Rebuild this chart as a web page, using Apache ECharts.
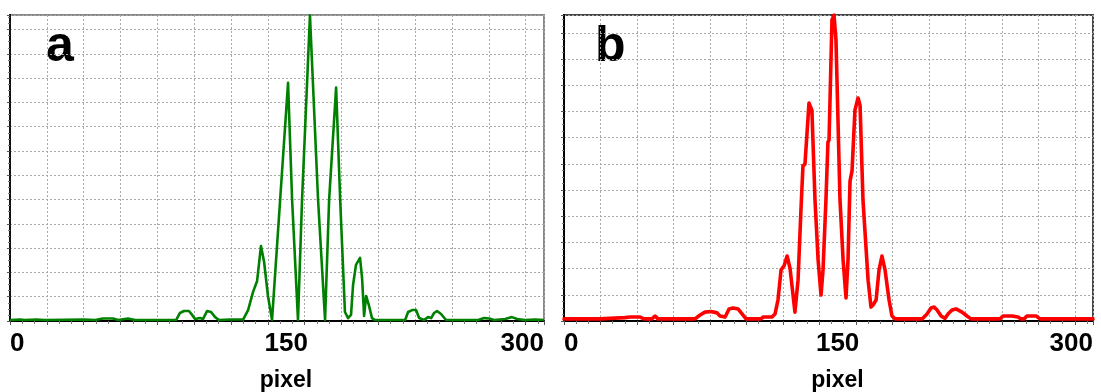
<!DOCTYPE html>
<html>
<head>
<meta charset="utf-8">
<script src="https://cdn.jsdelivr.net/npm/echarts@6/dist/echarts.min.js"></script>
<style>
  html, body { margin: 0; padding: 0; background: #fff; }
  #chart { width: 1101px; height: 392px; }
</style>
</head>
<body>
<div id="chart"></div>
<script>
// Profile a (green) : pixel position / intensity (in grid units)
var aPixel = [0, 5.4, 8.1, 14.1, 19.0, 40.2, 46.2, 50.5, 55.9, 58.7, 64.1, 67.9, 90.2, 92.3, 94.5, 97.2,
    98.9, 100.5, 103.2, 104.8, 107.0, 109.2, 111.4, 113.5, 119.5, 126.6, 129.3, 132.0, 134.2, 136.3,
    138.0, 140.1, 142.3, 146.7, 151.0, 153.2, 156.4, 158.6, 162.9, 167.3, 171.1, 173.3, 177.1, 179.3,
    181.9, 183.6, 185.2, 186.3, 187.9, 190.1, 191.2, 192.3, 193.4, 195.0, 196.6, 198.3, 214.6, 216.2,
    218.4, 220.5, 222.2, 224.9, 227.0, 228.7, 230.3, 231.9, 234.1, 236.8, 254.2, 257.5, 260.2, 262.9,
    268.9, 272.6, 275.4, 279.7, 285.2, 290];
var aIntensity = [0.04, 0.06, 0.04, 0.06, 0.04, 0.06, 0.04, 0.10, 0.10, 0.04, 0.10, 0.04, 0.04, 0.33, 0.41, 0.41,
    0.25, 0.08, 0.12, 0.08, 0.41, 0.37, 0.16, 0.04, 0.06, 0.06, 0.45, 1.20, 1.65, 3.09,
    2.43, 1.03, 0.04, 4.99, 9.81, 4.99, 0.04, 4.99, 12.58, 4.99, 0.04, 4.99, 9.61, 4.99,
    0.37, 0.12, 0.25, 1.48, 2.31, 2.60, 1.77, 0.21, 1.03, 0.62, 0.12, 0.04, 0.04, 0.37,
    0.45, 0.45, 0.12, 0.04, 0.16, 0.12, 0.33, 0.41, 0.29, 0.04, 0.04, 0.12, 0.10, 0.04,
    0.08, 0.16, 0.08, 0.04, 0.06, 0.04];

// Profile b (red)
var bPixel = [0, 19.7, 25.2, 33.4, 36.2, 41.7, 43.9, 48.2, 49.9, 51.5, 71.8, 74.6, 77.3, 80.6, 83.9, 85.5,
    88.3, 90.5, 92.7, 95.4, 97.6, 99.8, 108.0, 109.1, 114.0, 115.7, 117.3, 119.0, 120.6, 122.3, 123.9,
    126.6, 128.3, 129.9, 131.0, 132.1, 134.3, 135.9, 137.6, 139.3, 140.9, 142.0, 143.6, 144.7, 145.3,
    146.9, 148.0, 149.1, 151.3, 153.0, 154.6, 155.7, 156.8, 157.9, 159.5, 161.2, 162.3, 163.9, 166.7,
    168.3, 169.4, 171.1, 172.7, 174.3, 176.0, 178.2, 179.8, 181.5, 196.3, 199.0, 201.2, 202.9, 204.5,
    206.7, 208.9, 210.5, 212.7, 214.9, 218.2, 220.9, 223.1, 239.0, 240.7, 245.6, 248.9, 250.5, 252.2,
    253.8, 258.8, 261.0, 290];
var bIntensity = [0.08, 0.08, 0.10, 0.13, 0.15, 0.15, 0.08, 0.08, 0.19, 0.08, 0.08, 0.23, 0.34, 0.36, 0.31, 0.19,
    0.15, 0.46, 0.50, 0.46, 0.27, 0.08, 0.08, 0.15, 0.15, 0.27, 0.80, 1.95, 2.10, 2.48, 2.02,
    0.34, 1.56, 4.24, 5.92, 5.99, 8.32, 8.05, 4.62, 2.33, 0.99, 1.95, 4.62, 6.83, 6.91,
    11.49, 11.68, 10.73, 4.62, 2.33, 0.88, 2.33, 5.34, 5.73, 8.05, 8.51, 8.24, 4.62, 1.56,
    0.53, 0.61, 0.80, 1.95, 2.48, 1.95, 0.80, 0.19, 0.08, 0.08, 0.27, 0.50, 0.53, 0.42,
    0.19, 0.10, 0.27, 0.42, 0.46, 0.34, 0.19, 0.08, 0.08, 0.19, 0.19, 0.15, 0.08, 0.08,
    0.19, 0.19, 0.08, 0.08];

// Axis labels
var xTickValues = [0, 150, 290];
var xTickLabels = ['0', '150', '300'];
var panelLetters = ['a', 'b'];

var chart = echarts.init(document.getElementById('chart'));

function zip(xs, ys) {
    return xs.map(function (x, i) { return [x, ys[i]]; });
}

function makeXAxis(gridIndex) {
    return {
        type: 'value',
        gridIndex: gridIndex,
        min: 0,
        max: 290,
        interval: 20,
        name: 'pixel',
        nameLocation: 'middle',
        nameGap: 48,
        nameTextStyle: {
            fontFamily: 'Liberation Sans',
            fontWeight: 'bold',
            fontSize: 23,
            color: '#000',
            padding: [0, 0, 0, 18]
        },
        axisLine: { show: true, onZero: false, lineStyle: { color: '#000', width: 2 } },
        axisTick: { show: true, inside: false, length: 4, lineStyle: { color: '#555' } },
        minorTick: { show: true, splitNumber: 3, length: 3, lineStyle: { color: '#777' } },
        axisLabel: {
            customValues: xTickValues,
            formatter: function (v) { return xTickLabels[xTickValues.indexOf(v)]; },
            fontFamily: 'Liberation Sans',
            fontWeight: 'bold',
            fontSize: 26,
            color: '#000',
            margin: 10,
            alignMinLabel: 'left',
            alignMaxLabel: 'right'
        },
        splitLine: { show: true, lineStyle: { color: '#a8a8a8', type: [2, 2], width: 1 } }
    };
}

function makeYAxis(gridIndex, max) {
    return {
        type: 'value',
        gridIndex: gridIndex,
        min: 0,
        max: max,
        interval: 1,
        axisLine: { show: true, onZero: false, lineStyle: { color: '#000', width: 2 } },
        axisTick: { show: true, inside: false, length: 3, lineStyle: { color: '#555' } },
        minorTick: { show: true, splitNumber: 4, length: 2, lineStyle: { color: '#777' } },
        axisLabel: { show: false },
        splitLine: { show: true, lineStyle: { color: '#a8a8a8', type: [2, 2], width: 1 } }
    };
}

chart.setOption({
    animation: false,
    backgroundColor: '#fff',
    grid: [
        { left: 10, top: 15, width: 534, height: 306, outerBoundsMode: 'none', show: true, borderColor: '#888', borderWidth: 2 },
        { left: 564, top: 15, width: 529, height: 306, outerBoundsMode: 'none', show: true, borderColor: '#444', borderWidth: 2 }
    ],
    xAxis: [makeXAxis(0), makeXAxis(1)],
    yAxis: [
        makeYAxis(0, 12.6),
        makeYAxis(1, 11.68),
        {
            type: 'value', gridIndex: 0, position: 'right', min: 0, max: 12.6, interval: 1,
            axisLine: { show: true, lineStyle: { color: '#111', width: 2 } },
            axisTick: { show: false }, axisLabel: { show: false }, splitLine: { show: false }
        }
    ],
    graphic: [
        { type: 'text', left: 46, top: 22, style: { text: panelLetters[0], font: 'bold 50px "Liberation Sans"', fill: '#000' } },
        { type: 'text', left: 595, top: 22, style: { text: panelLetters[1], font: 'bold 50px "Liberation Sans"', fill: '#000' } }
    ],
    series: [
        {
            type: 'line',
            xAxisIndex: 0,
            yAxisIndex: 0,
            data: zip(aPixel, aIntensity),
            showSymbol: false,
            lineStyle: { color: '#008000', width: 2.6, join: 'round' },
            z: 5
        },
        {
            type: 'line',
            xAxisIndex: 1,
            yAxisIndex: 1,
            data: zip(bPixel, bIntensity),
            showSymbol: false,
            lineStyle: { color: '#ff0000', width: 3.6, join: 'round', cap: 'round' },
            z: 5
        }
    ]
});
</script>
</body>
</html>
